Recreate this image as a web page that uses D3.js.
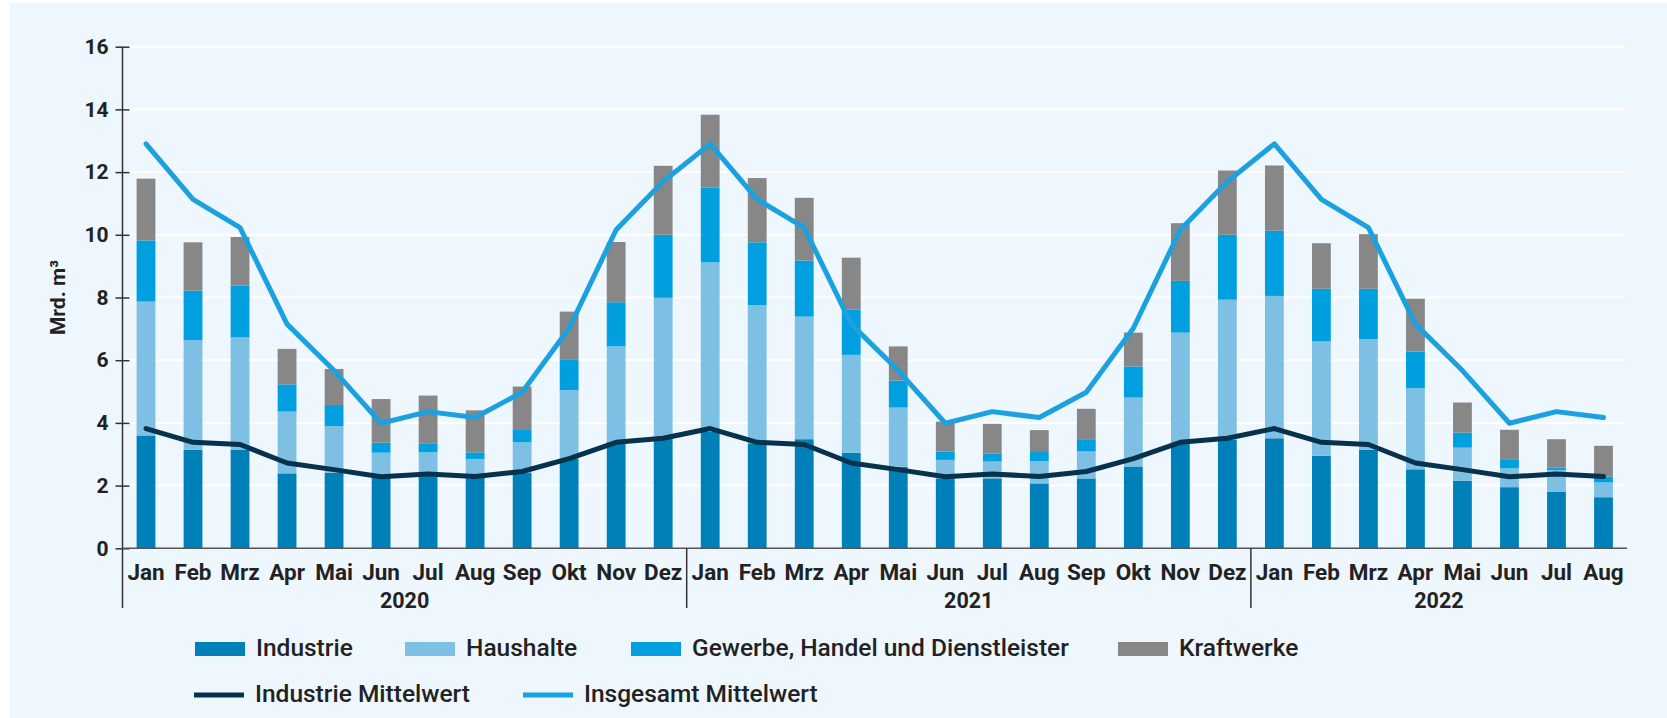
<!DOCTYPE html>
<html>
<head>
<meta charset="utf-8">
<script src="https://cdn.jsdelivr.net/npm/d3@7"></script>
<style>
  html, body { margin: 0; padding: 0; background: #ffffff; }
  svg text { font-family: Roboto, "Open Sans", sans-serif; fill: #222222; }
</style>
</head>
<body>
<svg id="chart"></svg>
<script>
// Monate (32 Balken, Jan 2020 bis Aug 2022)
const months = ["Jan","Feb","Mrz","Apr","Mai","Jun","Jul","Aug","Sep","Okt","Nov","Dez",
                "Jan","Feb","Mrz","Apr","Mai","Jun","Jul","Aug","Sep","Okt","Nov","Dez",
                "Jan","Feb","Mrz","Apr","Mai","Jun","Jul","Aug"];
const years = ["2020", "2021", "2022"];
const yearLength = [12, 12, 8];

// Mrd. m³ je Sektor
const industrie = [3.60, 3.14, 3.15, 2.39, 2.41, 2.25, 2.30, 2.25, 2.40, 2.85, 3.40, 3.50,
                   3.72, 3.35, 3.48, 3.05, 2.60, 2.23, 2.23, 2.07, 2.23, 2.61, 3.35, 3.46,
                   3.51, 2.95, 3.14, 2.52, 2.15, 1.95, 1.81, 1.63];
const haushalte = [4.27, 3.50, 3.58, 1.97, 1.49, 0.80, 0.76, 0.60, 0.98, 2.20, 3.04, 4.49,
                   5.40, 4.41, 3.91, 3.12, 1.89, 0.59, 0.54, 0.71, 0.86, 2.20, 3.53, 4.47,
                   4.54, 3.65, 3.53, 2.59, 1.06, 0.60, 0.69, 0.47];
const gewerbe   = [1.95, 1.58, 1.65, 0.87, 0.67, 0.32, 0.29, 0.21, 0.42, 0.96, 1.41, 2.01,
                   2.39, 2.00, 1.79, 1.44, 0.86, 0.27, 0.26, 0.32, 0.39, 0.99, 1.65, 2.07,
                   2.08, 1.68, 1.61, 1.17, 0.48, 0.27, 0.07, 0.19];
const kraftwerke = [1.97, 1.54, 1.55, 1.13, 1.15, 1.39, 1.52, 1.34, 1.36, 1.54, 1.92, 2.20,
                    2.32, 2.05, 2.00, 1.66, 1.09, 0.95, 0.94, 0.67, 0.97, 1.08, 1.84, 2.05,
                    2.08, 1.45, 1.74, 1.68, 0.96, 0.96, 0.91, 0.98];

// Mittelwerte je Monat
const industrieMittel = [3.82, 3.38, 3.31, 2.72, 2.51, 2.28, 2.37, 2.29, 2.45, 2.86, 3.38, 3.51,
                         3.82, 3.38, 3.31, 2.72, 2.51, 2.28, 2.37, 2.29, 2.45, 2.86, 3.38, 3.51,
                         3.82, 3.38, 3.31, 2.72, 2.51, 2.28, 2.37, 2.29];
const insgesamtMittel = [12.90, 11.13, 10.23, 7.15, 5.67, 3.99, 4.36, 4.17, 4.98, 7.02, 10.16, 11.70,
                         12.90, 11.13, 10.23, 7.15, 5.67, 3.99, 4.36, 4.17, 4.98, 7.02, 10.16, 11.70,
                         12.90, 11.13, 10.23, 7.15, 5.67, 3.99, 4.36, 4.17];

const yTicks = [0, 2, 4, 6, 8, 10, 12, 14, 16];

const series = [
    {name: "Industrie", values: industrie, color: "#0080b8"},
    {name: "Haushalte", values: haushalte, color: "#7dc0e3"},
    {name: "Gewerbe, Handel und Dienstleister", values: gewerbe, color: "#00a0e0"},
    {name: "Kraftwerke", values: kraftwerke, color: "#878787"}
];
const lines = [
    {name: "Industrie Mittelwert", values: industrieMittel, color: "#06324d"},
    {name: "Insgesamt Mittelwert", values: insgesamtMittel, color: "#1ba1df"}
];

const width = 1667, height = 718;
const plot = {left: 122.5, right: 1627, top: 46.7, bottom: 548.3};

const svg = d3.select("#chart")
    .attr("width", width)
    .attr("height", height);

svg.append("rect")
    .attr("x", 10).attr("y", 3)
    .attr("width", width - 10).attr("height", height - 3)
    .attr("fill", "#eef6fe");

const x = d3.scaleBand()
    .domain(d3.range(months.length))
    .range([plot.left, plot.right])
    .paddingInner(0.6)
    .paddingOuter(0.3);

const y = d3.scaleLinear()
    .domain([0, 16])
    .range([plot.bottom, plot.top]);

// Gitterlinien
svg.append("g")
    .selectAll("line")
    .data(yTicks.filter(d => d > 0))
    .join("line")
    .attr("x1", plot.left).attr("x2", 1625)
    .attr("y1", d => y(d)).attr("y2", d => y(d))
    .attr("stroke", "#ffffff")
    .attr("stroke-width", 2);

// gestapelte Balken
const table = months.map((m, i) => {
    const row = {i: i};
    series.forEach(s => row[s.name] = s.values[i]);
    return row;
});
const stack = d3.stack().keys(series.map(s => s.name))(table);

svg.append("g")
    .selectAll("g")
    .data(stack)
    .join("g")
    .attr("fill", (d, k) => series[k].color)
    .selectAll("rect")
    .data(d => d)
    .join("rect")
    .attr("x", d => x(d.data.i))
    .attr("width", x.bandwidth())
    .attr("y", d => y(d[1]))
    .attr("height", d => y(d[0]) - y(d[1]));

// Linien
const lineGen = d3.line()
    .x((d, i) => x(i) + x.bandwidth() / 2)
    .y(d => y(d));

svg.append("g")
    .selectAll("path")
    .data(lines)
    .join("path")
    .attr("d", d => lineGen(d.values))
    .attr("fill", "none")
    .attr("stroke", d => d.color)
    .attr("stroke-width", 5)
    .attr("stroke-linejoin", "round")
    .attr("stroke-linecap", "round");

// y-Achse
const yAxis = svg.append("g")
    .attr("transform", `translate(${plot.left},0)`)
    .call(d3.axisLeft(y).tickValues(yTicks).tickSize(7).tickPadding(7));
yAxis.select(".domain").remove();
yAxis.selectAll(".tick line")
    .attr("x1", -7).attr("x2", 7)
    .attr("stroke", "#333333").attr("stroke-width", 1.5);
yAxis.selectAll(".tick text")
    .attr("x", -14)
    .style("font-size", "21px")
    .style("font-weight", 700);

svg.append("line")
    .attr("x1", plot.left).attr("x2", plot.left)
    .attr("y1", plot.top).attr("y2", 608)
    .attr("stroke", "#333333").attr("stroke-width", 1.5);

svg.append("text")
    .attr("transform", `translate(58,${(plot.top + plot.bottom) / 2}) rotate(-90)`)
    .attr("text-anchor", "middle")
    .attr("dy", "0.35em")
    .style("font-size", "21px")
    .style("font-weight", 700)
    .text("Mrd. m³");

// x-Achse
const xAxis = svg.append("g")
    .attr("transform", `translate(0,${plot.bottom})`)
    .call(d3.axisBottom(x).tickFormat(i => months[i]).tickSize(0).tickPadding(10));
xAxis.select(".domain").remove();
xAxis.selectAll(".tick text")
    .attr("dy", 0).attr("y", 32)
    .style("font-size", "22.5px")
    .style("font-weight", 700);

svg.append("line")
    .attr("x1", plot.left).attr("x2", plot.right)
    .attr("y1", plot.bottom).attr("y2", plot.bottom)
    .attr("stroke", "#555555").attr("stroke-width", 1.5);

// Jahre
const yearStarts = yearLength.map((n, k) => d3.sum(yearLength.slice(0, k)));
const step = x.step();
svg.append("g")
    .selectAll("line")
    .data(yearStarts.slice(1))
    .join("line")
    .attr("x1", d => x(d) - step * 0.3).attr("x2", d => x(d) - step * 0.3)
    .attr("y1", plot.bottom).attr("y2", 608)
    .attr("stroke", "#333333").attr("stroke-width", 1.5);

svg.append("g")
    .selectAll("text")
    .data(years)
    .join("text")
    .attr("x", (d, k) => {
        const a = x(yearStarts[k]) - step * 0.3;
        const b = x(yearStarts[k] + yearLength[k] - 1) + x.bandwidth() + step * 0.3;
        return (a + b) / 2;
    })
    .attr("y", 608)
    .attr("text-anchor", "middle")
    .style("font-size", "21.5px")
    .style("font-weight", 700)
    .text(d => d);

// Legende
const legendBars = [195, 405, 631, 1118];
const legend = svg.append("g");
series.forEach((s, k) => {
    legend.append("rect")
        .attr("x", legendBars[k]).attr("y", 642)
        .attr("width", 50).attr("height", 14)
        .attr("fill", s.color);
    legend.append("text")
        .attr("x", legendBars[k] + 61).attr("y", 656)
        .style("font-size", "24.5px")
        .style("font-weight", 500)
        .text(s.name);
});
const legendLines = [194, 523];
lines.forEach((l, k) => {
    legend.append("line")
        .attr("x1", legendLines[k]).attr("x2", legendLines[k] + 50)
        .attr("y1", 695).attr("y2", 695)
        .attr("stroke", l.color)
        .attr("stroke-width", 5);
    legend.append("text")
        .attr("x", legendLines[k] + 61).attr("y", 702)
        .style("font-size", "24.5px")
        .style("font-weight", 500)
        .text(l.name);
});
</script>
</body>
</html>
